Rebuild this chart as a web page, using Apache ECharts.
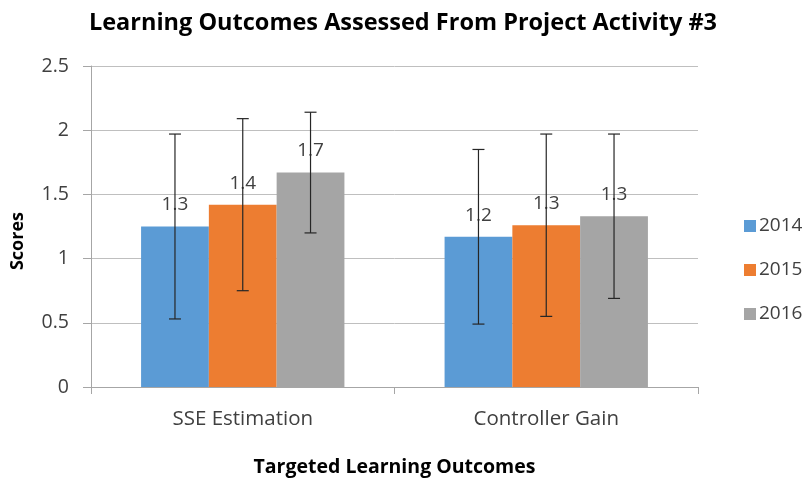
<!DOCTYPE html>
<html><head><meta charset="utf-8">
<script src="https://cdn.jsdelivr.net/npm/echarts@6/dist/echarts.min.js"></script>
<style>html,body{margin:0;padding:0;background:#fff}#c{width:806px;height:479px}</style>
</head><body><div id="c"></div>
<script>
const categories = ['SSE Estimation', 'Controller Gain'];
const years = ['2014', '2015', '2016'];
const values2014 = [1.25, 1.17];
const values2015 = [1.42, 1.26];
const values2016 = [1.67, 1.33];
const err2014 = [0.72, 0.68];
const err2015 = [0.67, 0.71];
const err2016 = [0.47, 0.64];
const yTicks = [0, 0.5, 1, 1.5, 2, 2.5];
const colors = ['#5b9bd5', '#ed7d31', '#a5a5a5'];

const FONT = "'Open Sans', 'Noto Sans', sans-serif";
const allVals = [values2014, values2015, values2016];
const allErr = [err2014, err2015, err2016];
const catGap = 0.33;

const chart = echarts.init(document.getElementById('c'));

const barSeries = years.map((y, i) => ({
  name: y, type: 'bar', data: allVals[i], barGap: '0%', barCategoryGap: (catGap*100)+'%',
  itemStyle: { color: colors[i] },
  label: { show: true, position: 'top', distance: 12, fontFamily: FONT, fontSize: 19, color: '#404040',
    formatter: p => p.value.toFixed(1) },
  z: 2
}));

const errData = [];
allVals.forEach((vals, si) => vals.forEach((v, ci) => errData.push([ci, v, allErr[si][ci], si])));

const errSeries = {
  type: 'custom', name: 'err', data: errData, z: 5, silent: true,
  renderItem: function (params, api) {
    const ci = api.value(0), v = api.value(1), e = api.value(2), si = api.value(3);
    const catW = api.size([1, 0])[0];
    const bw = catW * (1 - catGap) / 3;
    const c = api.coord([ci, v]);
    const x = c[0] + (si - 1) * bw;
    const top = api.coord([ci, v + e])[1];
    const bot = api.coord([ci, v - e])[1];
    const cap = 6;
    const st = { stroke: '#262626', lineWidth: 1.2 };
    return { type: 'group', children: [
      { type: 'line', shape: { x1: x, y1: top, x2: x, y2: bot }, style: st },
      { type: 'line', shape: { x1: x - cap, y1: top, x2: x + cap, y2: top }, style: st },
      { type: 'line', shape: { x1: x - cap, y1: bot, x2: x + cap, y2: bot }, style: st }
    ]};
  }
};

chart.setOption({
  animation: false,
  title: { text: 'Learning Outcomes Assessed From Project Activity #3', left: 'center', top: 6,
    textStyle: { fontFamily: FONT, fontSize: 23.5, fontWeight: 'bold', color: '#000' } },
  grid: { left: 91, right: 108, top: 66, bottom: 92, containLabel: false, outerBoundsMode: 'none' },
  legend: { orient: 'vertical', left: 739, top: 210, itemWidth: 12, itemHeight: 12, itemGap: 22,
    data: years, icon: 'rect',
    textStyle: { fontFamily: FONT, fontSize: 19, lineHeight: 22, color: '#404040', padding: [0,0,0,-2] } },
  xAxis: { type: 'category', data: categories,
    axisLine: { lineStyle: { color: '#a6a6a6' } },
    axisTick: { show: true, length: 7, lineStyle: { color: '#a6a6a6' } },
    axisLabel: { margin: 22, fontFamily: FONT, fontSize: 20.5, color: '#404040' },
    name: 'Targeted Learning Outcomes', nameLocation: 'middle', nameGap: 70,
    nameTextStyle: { fontFamily: FONT, fontSize: 19.5, fontWeight: 'bold', color: '#000' } },
  yAxis: { type: 'value', min: 0, max: 2.5, interval: 0.5,
    axisLine: { show: true, lineStyle: { color: '#a6a6a6' } },
    axisTick: { show: true, length: 8, lineStyle: { color: '#a6a6a6' } },
    splitLine: { lineStyle: { color: '#bfbfbf' } },
    axisLabel: { margin: 22, fontFamily: FONT, fontSize: 19.5, color: '#404040',
      formatter: v => yTicks.includes(v) ? String(v) : '' } },
  graphic: [{ type: 'text', left: 9, top: 212, rotation: Math.PI/2,
    style: { text: 'Scores', fontFamily: FONT, fontSize: 18, fontWeight: 'bold', fill: '#000' } }],
  series: [...barSeries, errSeries]
});
</script></body></html>
